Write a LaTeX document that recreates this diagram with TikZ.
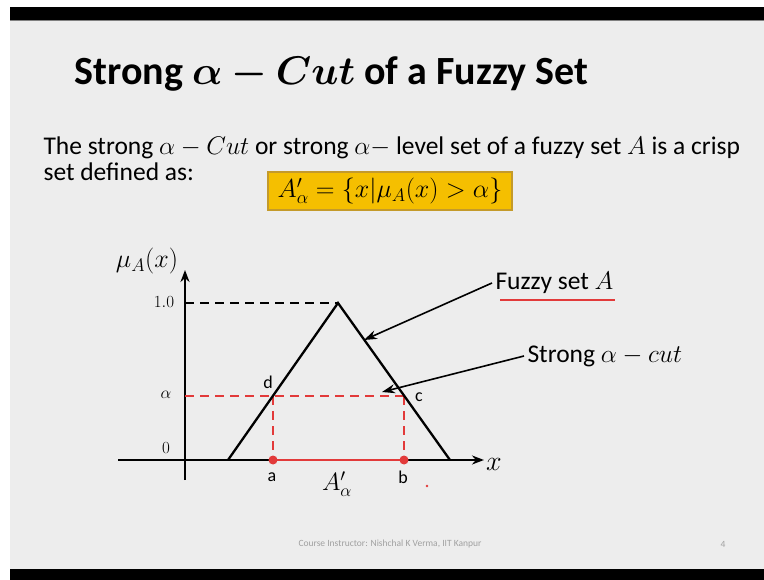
\documentclass[tikz,border=0pt]{standalone}
\usepackage{fix-cm}
\usepackage{amsmath,bm}
\usepackage[no-math]{fontspec}
\setmainfont{Carlito}
\usetikzlibrary{arrows.meta,positioning}
\definecolor{slidebg}{HTML}{EDEDED}
\definecolor{boxgold}{HTML}{F5BF00}
\definecolor{boxedge}{HTML}{C49A2A}
\definecolor{cutred}{HTML}{E23A3A}
\definecolor{footgray}{HTML}{A0A0A0}

\begin{document}
\begin{tikzpicture}[
  x=1pt, y=-1pt,
  axis/.style={line width=2.4pt, -{Stealth[length=12pt, width=9pt]}},
  memb/.style={line width=2.3pt, line join=miter},
  guide/.style={line width=2pt, dash pattern=on 9pt off 6pt},
  cutline/.style={guide, draw=cutred},
  pin/.style={line width=1.6pt, -{Stealth[length=13pt, width=9pt]}},
  tick/.style={font=\fontsize{17}{20}\selectfont},
  ptlabel/.style={font=\fontsize{18}{21}\selectfont},
  callout/.style={font=\fontsize{25.5}{30}\selectfont, anchor=west},
  body/.style={font=\fontsize{25.5}{30}\selectfont, anchor=base west},
]
\useasboundingbox (0,0) rectangle (764,580);
% slide frame
\fill[white] (0,0) rectangle (764,580);
\fill[slidebg] (10,20) rectangle (764,569);
\fill[black] (10,7) rectangle (764,20);
\fill[black] (10,569) rectangle (764,580);
\draw[gray, line width=1pt] (10,21) -- (764,21);

% heading and definition
\node[anchor=base west, font=\fontsize{40}{46}\selectfont\bfseries] (title) at (71,85)
  {Strong $\bm{\alpha-Cut}$ of a Fuzzy Set};
\node[body] (defn) at (40,155)
  {The strong $\alpha-Cut$ or strong $\alpha-$ level set of a fuzzy set $A$ is a crisp};
\node[body] (defn2) at (40,181) {set defined as:};
\node[fill=boxgold, draw=boxedge, line width=1.2pt, minimum width=244pt, minimum height=38pt,
  font=\fontsize{26}{31}\selectfont] (formula) at (390,191)
  {$A'_\alpha=\{x|\mu_A(x)>\alpha\}$};

% axes
\coordinate (ybot) at (185,480);
\coordinate (ytop) at (185,270);
\coordinate (xleft) at (118,460);
\coordinate (xright) at (484,460);
\draw[axis] (ybot) -- (ytop);
\draw[axis] (xleft) -- (xright);
\node[font=\fontsize{26}{30}\selectfont] (mu) at (147,261) {$\mu_A(x)$};
\node[font=\fontsize{28}{32}\selectfont] (xlbl) at (494,464) {$x$};

% membership function
\coordinate (p0) at (228,460);
\coordinate (peak) at (338,303);
\coordinate (p1) at (450,460);
\coordinate (one) at (185,303);
\coordinate (lev) at (185,396);
\coordinate (d) at (273,396);
\coordinate (c) at (404,396);
\coordinate (a) at (273,460);
\coordinate (b) at (404,460);
\draw[guide] (one) -- (peak);
\draw[cutline] (lev) -- (c);
\draw[cutline] (d) -- (a);
\draw[cutline] (c) -- (b);
\draw[memb] (p0) -- (peak) -- (p1);
\draw[cutred, line width=2.4pt] (a) -- (b);
\fill[cutred] (a) circle (4.5);
\fill[cutred] (b) circle (4.5);
\fill[cutred] (427,486) circle (1.4);

\node[tick] (t1) at (164,302) {$1.0$};
\node[tick] (ta) at (166,395) {$\alpha$};
\node[tick] (t0) at (166,448) {$0$};
\node[ptlabel] (la) at (272,477) {a};
\node[ptlabel] (lb) at (403,477) {b};
\node[ptlabel] (ld) at (268,382) {d};
\node[ptlabel] (lc) at (419,397) {c};
\node[font=\fontsize{25}{30}\selectfont] (cutset) at (337,484) {$A'_\alpha$};

% call-outs
\node[callout] (fuzzy) at (492,283) {Fuzzy set $A$};
\coordinate (ulstart) at (500,300);
\coordinate (ulend) at (615,300);
\draw[draw=cutred, line width=1.6pt] (ulstart) -- (ulend);
\coordinate (fuzzytip) at (364,340);
\draw[pin] (fuzzy.west) -- (fuzzytip);
\node[callout] (strong) at (524,356) {Strong $\alpha-cut$};
\coordinate (strongtip) at (382,392);
\draw[pin] (strong.west) -- (strongtip);

% footer
\node[font=\fontsize{9.5}{11}\selectfont, text=footgray] (credit) at (390,544)
  {Course Instructor: Nishchal K Verma, IIT Kanpur};
\node[font=\fontsize{9.5}{11}\selectfont, text=footgray] (page) at (723,544) {4};
\end{tikzpicture}
\end{document}
